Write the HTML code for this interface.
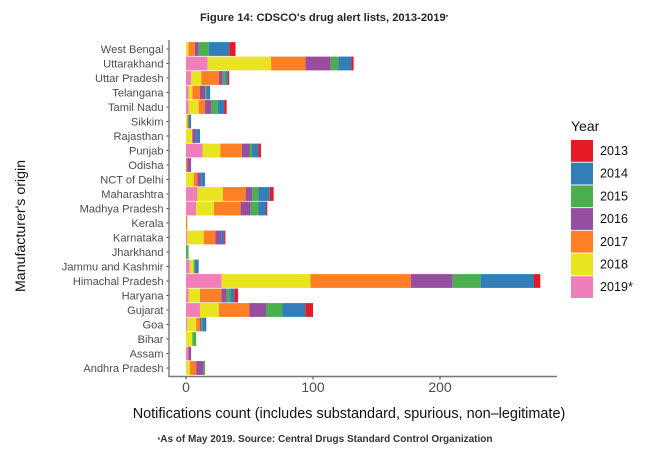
<!DOCTYPE html>
<html>
<head>
<meta charset="utf-8">
<style>
html,body{margin:0;padding:0;background:#fff;}
svg{display:block;font-family:"Liberation Sans",sans-serif;}
</style>
</head>
<body>
<svg id="chart" xmlns="http://www.w3.org/2000/svg" width="657" height="449" viewBox="0 0 657 449">
  <text x="324" y="21" text-anchor="middle" font-size="11.2" font-weight="700" fill="#26262c">Figure 14: CDSCO's drug alert lists, 2013-2019<tspan font-size="6" dy="-2">*</tspan></text>
  <text transform="translate(25,226) rotate(-90)" text-anchor="middle" font-size="14.2" fill="#111">Manufacturer's origin</text>
  <text x="349" y="418" text-anchor="middle" font-size="14.45" fill="#111">Notifications count (includes substandard, spurious, non–legitimate)</text>
  <text x="325" y="442" text-anchor="middle" font-size="10" font-weight="700" fill="#33333a"><tspan font-size="7">*</tspan>As of May 2019. Source: Central Drugs Standard Control Organization</text>
  <g id="bars"></g>
  <g id="axes"></g>
  <g id="legend"></g>
</svg>
<script>
const categories = ["West Bengal","Uttarakhand","Uttar Pradesh","Telangana","Tamil Nadu","Sikkim","Rajasthan","Punjab","Odisha","NCT of Delhi","Maharashtra","Madhya Pradesh","Kerala","Karnataka","Jharkhand","Jammu and Kashmir","Himachal Pradesh","Haryana","Gujarat","Goa","Bihar","Assam","Andhra Pradesh"];
const years = ["2019*","2018","2017","2016","2015","2014","2013"];
const legendYears = ["2013","2014","2015","2016","2017","2018","2019*"];
const yearColors = {"2013":"#e41a25","2014":"#337db8","2015":"#4caf4f","2016":"#984ea0","2017":"#ff7f24","2018":"#e8e41f","2019*":"#ef7fb8"};
const values2019 = [0,17,4,2,2,0,0,13,0,0,9,8,0,1,0,3,28,2,11,1,0,2,0];
const values2018 = [2,50,8,3,8,1,5,14,0,6,20,14,0,13,0,3,70,9,15,7,5,0,3];
const values2017 = [5,27,14,6,5,1,0,17,1,3,18,21,1,9,0,0,79,17,24,3,0,0,5];
const values2016 = [3,20,3,4,5,0,3,6,3,3,5,8,0,5,0,0,33,4,13,1,0,2,6];
const values2015 = [8,6,2,1,5,0,0,2,0,0,5,6,0,0,2,1,22,3,13,1,3,0,1];
const values2014 = [16,10,2,3,5,2,3,5,0,3,9,6,0,2,0,3,42,3,18,3,0,0,0];
const values2013 = [5,2,1,0,2,0,0,2,0,0,3,1,0,1,0,0,5,3,6,0,0,0,0];
const xTicks = [0,100,200];

const seriesValues = [values2019,values2018,values2017,values2016,values2015,values2014,values2013];
const NS = "http://www.w3.org/2000/svg";
const xScale = v => 186 + v * 1.27;
const yScale = i => 49 + i * 14.5;

function mk(parent, tag, attrs, text) {
  const el = document.createElementNS(NS, tag);
  for (const k in attrs) el.setAttribute(k, attrs[k]);
  if (text !== undefined) el.textContent = text;
  parent.appendChild(el);
  return el;
}

const barsG = document.getElementById("bars");
const axesG = document.getElementById("axes");
const legendG = document.getElementById("legend");

categories.forEach((cat, i) => {
  let cum = 0;
  seriesValues.forEach((vals, s) => {
    const v = vals[i];
    if (v > 0) {
      const r = mk(barsG, "rect", {
        x: xScale(cum), y: yScale(i) - 6.9,
        width: xScale(cum + v) - xScale(cum), height: 13.8,
        fill: yearColors[years[s]]
      });
      
      
    }
    cum += v;
  });
  const t = mk(axesG, "line", {x1: 166.5, x2: 169, y1: yScale(i), y2: yScale(i), stroke: "#444", "stroke-width": 1});
  
  
  const l = mk(axesG, "text", {x: 163.5, y: yScale(i) + 4, "text-anchor": "end", "font-size": 11.1, fill: "#4d4d4d"}, cat);
  
  
});

const yAxis = mk(axesG, "line", {x1: 169, x2: 169, y1: 40, y2: 377, stroke: "#777", "stroke-width": 1.4});


const xAxis = mk(axesG, "line", {x1: 168.3, x2: 557, y1: 376.5, y2: 376.5, stroke: "#777", "stroke-width": 1.4});



xTicks.forEach(v => {
  const t = mk(axesG, "line", {x1: xScale(v), x2: xScale(v), y1: 377, y2: 379.5, stroke: "#444", "stroke-width": 1});
  
  
  const l = mk(axesG, "text", {x: xScale(v), y: 392, "text-anchor": "middle", "font-size": 14, fill: "#4d4d4d"}, String(v));
  
  
});

const legendTitle = mk(legendG, "text", {x: 571, y: 131, "font-size": 14, fill: "#111"}, "Year");


legendYears.forEach((y, i) => {
  const top = 140 + i * 22.7;
  const s = mk(legendG, "rect", {x: 571, y: top, width: 22, height: 21.8, fill: yearColors[y]});
  
  
  const l = mk(legendG, "text", {x: 600, y: top + 15, "font-size": 12.6, fill: "#111"}, y);
  
  
});
</script>
</body>
</html>
